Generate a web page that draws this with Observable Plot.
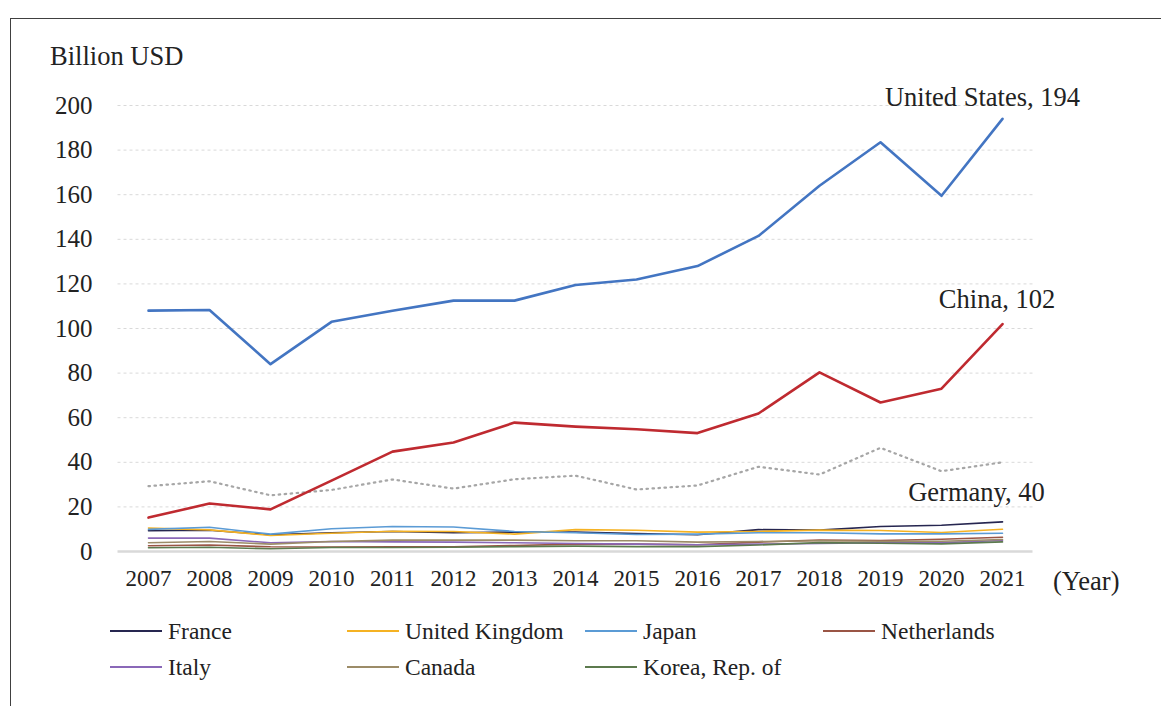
<!DOCTYPE html>
<html>
<head>
<meta charset="utf-8">
<script src="https://cdn.jsdelivr.net/npm/d3@7"></script>
<script src="https://cdn.jsdelivr.net/npm/@observablehq/plot@0.6"></script>
<style>
  html, body { margin: 0; padding: 0; background: #fff; }
  #wrap { position: relative; width: 1161px; height: 706px; overflow: hidden; font-family: "Liberation Serif", "Times New Roman", serif; color: #222; }
  #frame { position: absolute; left: 10px; top: 18px; right: -2px; bottom: -2px; border-top: 1px solid #404040; border-left: 1px solid #404040; }
  #chart { position: absolute; left: 0; top: 0; }
  #chart text { font-family: "Liberation Serif", "Times New Roman", serif; }
  #ylabel { position: absolute; left: 50px; top: 40px; font-size: 26.5px; line-height: 32px; }
  #xlabel { position: absolute; left: 1053px; top: 565px; font-size: 26.5px; line-height: 32px; }
  .leg { position: absolute; font-size: 23.5px; line-height: 26px; display: flex; align-items: center; white-space: nowrap; }
  .leg .sw { display: inline-block; width: 52px; height: 2px; margin-right: 6px; }
</style>
</head>
<body>
<div id="wrap">
  <div id="frame"></div>
  <div id="chart"></div>
  <div id="ylabel">Billion USD</div>
  <div id="xlabel">(Year)</div>
  <div id="legend"></div>
</div>
<script>
const years = [2007, 2008, 2009, 2010, 2011, 2012, 2013, 2014, 2015, 2016, 2017, 2018, 2019, 2020, 2021];
const unitedStates = [108, 108.3, 84, 103, 108, 112.5, 112.5, 119.5, 122, 128, 141.5, 164, 183.5, 159.5, 194];
const china = [15.2, 21.5, 18.9, 31.8, 44.8, 48.9, 57.8, 56, 54.8, 53.1, 61.9, 80.3, 66.8, 73, 102];
const germany = [29.3, 31.5, 25.2, 27.6, 32.3, 28.2, 32.4, 34, 27.8, 29.6, 38, 34.5, 46.5, 36, 40];
const france = [9.3, 9.5, 7.5, 8.4, 9.0, 8.4, 8.7, 8.7, 8.1, 7.5, 9.8, 9.6, 11.2, 11.8, 13.3];
const unitedKingdom = [10.5, 9.7, 7.2, 8.2, 9.1, 9.0, 7.8, 9.8, 9.5, 8.7, 9.0, 9.6, 9.4, 8.5, 10.0];
const japan = [9.9, 10.9, 7.8, 10.2, 11.2, 11.0, 9.0, 8.4, 7.6, 7.8, 8.4, 8.4, 7.9, 7.9, 8.2];
const netherlands = [2.6, 2.9, 2.1, 2.0, 2.1, 2.1, 2.7, 3.3, 3.3, 3.0, 4.2, 5.1, 4.9, 5.5, 6.4];
const italy = [6.0, 6.0, 3.9, 4.5, 4.3, 4.2, 3.9, 3.6, 3.3, 3.0, 3.3, 3.6, 4.0, 4.0, 4.9];
const canada = [3.9, 4.5, 3.3, 4.5, 5.1, 5.1, 5.1, 4.8, 4.8, 4.2, 4.5, 4.8, 4.6, 4.6, 5.4];
const korea = [1.7, 1.9, 1.2, 1.8, 1.8, 1.9, 2.2, 2.4, 2.2, 2.2, 2.9, 4.0, 3.7, 3.4, 4.3];

const yTicks = [0, 20, 40, 60, 80, 100, 120, 140, 160, 180, 200];
const gridTicks = [20, 40, 60, 80, 100, 120, 140, 160, 180, 200];

const smallNames = ["France", "United Kingdom", "Japan", "Netherlands", "Italy", "Canada", "Korea, Rep. of"];
const smallValues = [france, unitedKingdom, japan, netherlands, italy, canada, korea];
const smallColors = ["#262650", "#f5b223", "#5b9bd5", "#9a5545", "#8a68b8", "#9c8c68", "#5c7a4e"];

const bigNames = ["United States", "China", "Germany"];
const bigValues = [unitedStates, china, germany];
const bigColors = ["#4375c2", "#bf2a30", "#a6a6a6"];

const smallRows = [];
smallNames.forEach((n, i) => years.forEach((yr, j) => smallRows.push({name: n, year: yr, value: smallValues[i][j]})));
const bigRows = bigNames.map((n, i) => years.map((yr, j) => ({name: n, year: yr, value: bigValues[i][j]})));

const endLabels = bigNames.map((n, i) => ({
  name: n, year: years[years.length - 1], value: bigValues[i][years.length - 1],
  text: `${n}, ${bigValues[i][years.length - 1]}`
}));

const serif = "'Liberation Serif', 'Times New Roman', serif";

const chart = Plot.plot({
  width: 1161,
  height: 600,
  marginLeft: 117.5,
  marginRight: 128.5,
  marginTop: 105,
  marginBottom: 49,
  style: {fontFamily: serif, background: "transparent", color: "#222"},
  x: {domain: [2006.5, 2021.5], axis: null},
  y: {domain: [0, 200], axis: null},
  marks: [
    Plot.gridY(gridTicks, {stroke: "#d9d9d9", strokeOpacity: 1, strokeDasharray: "3,3", strokeWidth: 1}),
    Plot.ruleY([0], {stroke: "#d9d9d9", strokeWidth: 2.5}),
    Plot.axisY(yTicks, {tickSize: 0, tickPadding: 25.5, fontSize: 25, fontFamily: serif, label: null, fill: "#222"}),
    Plot.axisX(years, {tickSize: 0, tickPadding: 18, fontSize: 23, fontFamily: serif, label: null, tickFormat: d => String(d), fill: "#222"}),
    Plot.line(smallRows, {x: "year", y: "value", z: "name", stroke: d => smallColors[smallNames.indexOf(d.name)], strokeWidth: 1.6}),
    Plot.line(bigRows[2], {x: "year", y: "value", stroke: bigColors[2], strokeWidth: 2.2, strokeDasharray: "1.5,4.5", strokeLinecap: "round"}),
    Plot.line(bigRows[1], {x: "year", y: "value", stroke: bigColors[1], strokeWidth: 2.6}),
    Plot.line(bigRows[0], {x: "year", y: "value", stroke: bigColors[0], strokeWidth: 2.6}),
    Plot.text([endLabels[0]], {x: "year", y: "value", text: "text", dx: -20, dy: -21, fontSize: 26.5, fontFamily: serif, fill: "#222"}),
    Plot.text([endLabels[1]], {x: "year", y: "value", text: "text", dx: -5.5, dy: -25, fontSize: 26.5, fontFamily: serif, fill: "#222"}),
    Plot.text([endLabels[2]], {x: "year", y: "value", text: "text", dx: -26, dy: 30, fontSize: 26.5, fontFamily: serif, fill: "#222"})
  ]
});
document.getElementById("chart").appendChild(chart);

// legend
const legend = document.getElementById("legend");
const colX = [110, 347, 585, 823];
const rowY = [618, 654];
smallNames.forEach((n, i) => {
  const el = document.createElement("div");
  el.className = "leg";
  el.style.left = colX[i % 4] + "px";
  el.style.top = rowY[Math.floor(i / 4)] + "px";
  const sw = document.createElement("span");
  sw.className = "sw";
  sw.style.background = smallColors[i];
  el.appendChild(sw);
  el.appendChild(document.createTextNode(n));
  legend.appendChild(el);
});
</script>
</body>
</html>
